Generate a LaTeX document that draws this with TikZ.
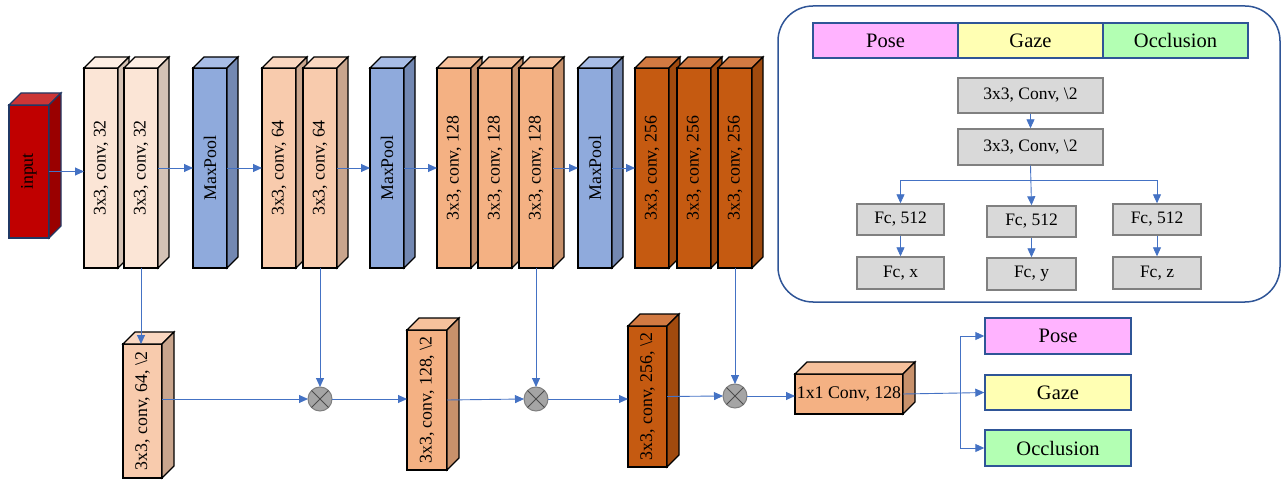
\documentclass[tikz,border=0pt]{standalone}
\usepackage{graphicx}
\usepackage{fontspec}
\setmainfont{Liberation Serif}
\usetikzlibrary{arrows.meta}

\definecolor{inp}{HTML}{C00000}  \definecolor{inpt}{HTML}{CC3636}  \definecolor{inps}{HTML}{9A0000}
\definecolor{inpline}{HTML}{203864}
\definecolor{c32}{HTML}{FBE5D6}  \definecolor{c32t}{HTML}{FDEEE4}  \definecolor{c32s}{HTML}{D4C2B5}
\definecolor{c64}{HTML}{F8CBAD}  \definecolor{c64t}{HTML}{FAD7C0}  \definecolor{c64s}{HTML}{C9A58D}
\definecolor{c128}{HTML}{F4B183} \definecolor{c128t}{HTML}{F6C19C} \definecolor{c128s}{HTML}{C8916B}
\definecolor{c256}{HTML}{C55A11} \definecolor{c256t}{HTML}{D27A42} \definecolor{c256s}{HTML}{A04A0E}
\definecolor{mp}{HTML}{8FAADC}   \definecolor{mpt}{HTML}{A8BDE6}   \definecolor{mps}{HTML}{7388B2}
\definecolor{flowblue}{HTML}{4472C4}
\definecolor{boxblue}{HTML}{2F5597}
\definecolor{multfill}{HTML}{A5A5A5}
\definecolor{multline}{HTML}{7F7F7F}
\definecolor{grayfill}{HTML}{D9D9D9}
\definecolor{grayline}{HTML}{808080}
\definecolor{posec}{HTML}{FFB3FF}
\definecolor{gazec}{HTML}{FFFFB3}
\definecolor{occlc}{HTML}{B3FFB3}

\newcommand{\vt}[1]{\rotatebox{90}{#1}}
\newcommand{\cuboid}[7]{%
  \node[blockface, fill=#6, minimum width=#3, minimum height=#4] (#1) at (#2) {#7};
  \draw[blockface, fill=#6t] (#1.north west) -- ++(#5,-#5) -- ++(#3,0) -- (#1.north east) -- cycle;
  \draw[blockface, fill=#6s] (#1.north east) -- ++(#5,-#5) -- ++(0,#4) -- (#1.south east) -- cycle;
}

\begin{document}
\begin{tikzpicture}[x=1pt,y=-1pt,
    blockface/.style={draw=black, line width=1.2pt, outer sep=0pt, inner sep=0pt,
      font=\fontsize{17.8}{20}\selectfont},
    flow/.style={draw=flowblue, line width=0.9pt, -{Triangle[length=9pt,width=8pt]}},
    mult/.style={circle, draw=multline, fill=multfill, line width=1pt, minimum size=24pt,
      inner sep=0pt, outer sep=0pt},
    outbox/.style={draw=boxblue, line width=1.4pt, minimum width=146pt, minimum height=36pt,
      inner sep=0pt, font=\fontsize{20.5}{23}\selectfont},
    graybox/.style={draw=grayline, fill=grayfill, line width=1.4pt, inner sep=0pt,
      font=\fontsize{17.5}{20}\selectfont}]
  \useasboundingbox (0,0) rectangle (1283,481);

  \begin{scope}[blockface/.append style={draw=inpline}]
    \cuboid{IN}{29,171.5}{40}{133}{12}{inp}{\vt{input}}
  \end{scope}
  \cuboid{C32a}{101,168}{34}{200}{11}{c32}{\vt{3x3, conv, 32}}
  \cuboid{C32b}{141,168}{34}{200}{11}{c32}{\vt{3x3, conv, 32}}
  \cuboid{MP1}{210,168}{34}{200}{11}{mp}{\vt{MaxPool}}
  \cuboid{C64a}{279,168}{34}{200}{11}{c64}{\vt{3x3, conv, 64}}
  \cuboid{C64b}{320,168}{34}{200}{11}{c64}{\vt{3x3, conv, 64}}
  \cuboid{MP2}{387,168}{34}{200}{11}{mp}{\vt{MaxPool}}
  \cuboid{C128a}{454,168}{34}{200}{11}{c128}{\vt{3x3, conv, 128}}
  \cuboid{C128b}{495,168}{34}{200}{11}{c128}{\vt{3x3, conv, 128}}
  \cuboid{C128c}{536,168}{34}{200}{11}{c128}{\vt{3x3, conv, 128}}
  \cuboid{MP3}{595,168}{34}{200}{11}{mp}{\vt{MaxPool}}
  \cuboid{C256a}{652,168}{34}{200}{11}{c256}{\vt{3x3, conv, 256}}
  \cuboid{C256b}{694,168}{34}{200}{11}{c256}{\vt{3x3, conv, 256}}
  \cuboid{C256c}{735,168}{34}{200}{11}{c256}{\vt{3x3, conv, 256}}

  \cuboid{B64}{142.5,411}{39}{134}{12}{c64}{\vt{3x3, conv, 64, \textbackslash2}}
  \cuboid{B128}{427,400}{40}{140}{12}{c128}{\vt{3x3, conv, 128, \textbackslash2}}
  \cuboid{B256}{647.5,396.5}{39}{141}{12}{c256}{\vt{3x3, conv, 256, \textbackslash2}}
  \cuboid{C1x1}{849,394}{108}{40}{12}{c128}{1x1 Conv, 128}

  \node[mult] (M1) at (320,399) {};
  \node[mult] (M2) at (536,399) {};
  \node[mult] (M3) at (735,396) {};
  \draw[multline!60!black, line width=1pt] (M1.45) -- (M1.225) (M1.135) -- (M1.315);
  \draw[multline!60!black, line width=1pt] (M2.45) -- (M2.225) (M2.135) -- (M2.315);
  \draw[multline!60!black, line width=1pt] (M3.45) -- (M3.225) (M3.135) -- (M3.315);

  \node[outbox, fill=posec] (OP) at (1058,336) {Pose};
  \node[outbox, fill=gazec, minimum height=35pt] (OG) at (1058,392.5) {Gaze};
  \node[outbox, fill=occlc] (OO) at (1058,448) {Occlusion};

  \draw[flow] (IN.east) -- (C32a.west |- IN.east);
  \draw[flow] (C32b.east) -- (MP1.west);
  \draw[flow] (MP1.east) -- (C64a.west);
  \draw[flow] (C64b.east) -- (MP2.west);
  \draw[flow] (MP2.east) -- (C128a.west);
  \draw[flow] (C128c.east) -- (MP3.west);
  \draw[flow] (MP3.east) -- (C256a.west);

  \draw[flow] (C32b.south) -- (C32b.south |- B64.north);
  \draw[flow] (C64b.south) -- (M1.north);
  \draw[flow] (C128c.south) -- (M2.north);
  \draw[flow] (C256c.south) -- (M3.north);

  \draw[flow] (B64.east |- M1) -- (M1.west);
  \draw[flow] (M1.east) -- (B128.west |- M1);
  \draw[flow] (B128.east) -- (M2.west);
  \draw[flow] (M2.east) -- (B256.west |- M2);
  \draw[flow] (B256.east) -- (M3.west);
  \draw[flow] (M3.east) -- (C1x1.west |- M3);

  \coordinate (split) at (960,393);
  \draw[draw=flowblue, line width=0.9pt] (C1x1.east) -- (split);
  \draw[flow] (split) |- (OP.west);
  \draw[flow] (split) -- (OG.west);
  \draw[flow] (split) |- (OO.west);

  \node[draw=boxblue, line width=1.5pt, rounded corners=35pt, minimum width=502pt,
    minimum height=296pt] (LG) at (1029,154) {};
  \node[outbox, fill=posec, minimum width=145pt, minimum height=35pt] (HP) at (885.5,40.5) {Pose};
  \node[outbox, fill=gazec, minimum width=145pt, minimum height=35pt] (HG) at (1030.5,40.5) {Gaze};
  \node[outbox, fill=occlc, minimum width=145pt, minimum height=35pt] (HO) at (1175.5,40.5) {Occlusion};

  \node[graybox, minimum width=145pt, minimum height=35pt] (CV1) at (1030.5,95.5) {3x3, Conv, \textbackslash2};
  \node[graybox, minimum width=145pt, minimum height=36pt] (CV2) at (1030.5,147) {3x3, Conv, \textbackslash2};
  \node[graybox, minimum width=87pt, minimum height=31pt] (FA) at (900.5,219.5) {Fc, 512};
  \node[graybox, minimum width=89pt, minimum height=31pt] (FB) at (1031.5,221.5) {Fc, 512};
  \node[graybox, minimum width=88pt, minimum height=31pt] (FC) at (1157,219.5) {Fc, 512};
  \node[graybox, minimum width=87pt, minimum height=32pt] (FX) at (900.5,273) {Fc, x};
  \node[graybox, minimum width=89pt, minimum height=32pt] (FY) at (1031.5,274) {Fc, y};
  \node[graybox, minimum width=88pt, minimum height=32pt] (FZ) at (1157,273) {Fc, z};

  \draw[flow] (CV1) -- (CV2);
  \coordinate (br) at (1031,180);
  \draw[flow] (CV2.south) -- (FB.north);
  \draw[flow] (br) -| (FA.north);
  \draw[flow] (br) -| (FC.north);
  \draw[flow] (FA) -- (FX);
  \draw[flow] (FB) -- (FY);
  \draw[flow] (FC) -- (FZ);
\end{tikzpicture}
\end{document}
